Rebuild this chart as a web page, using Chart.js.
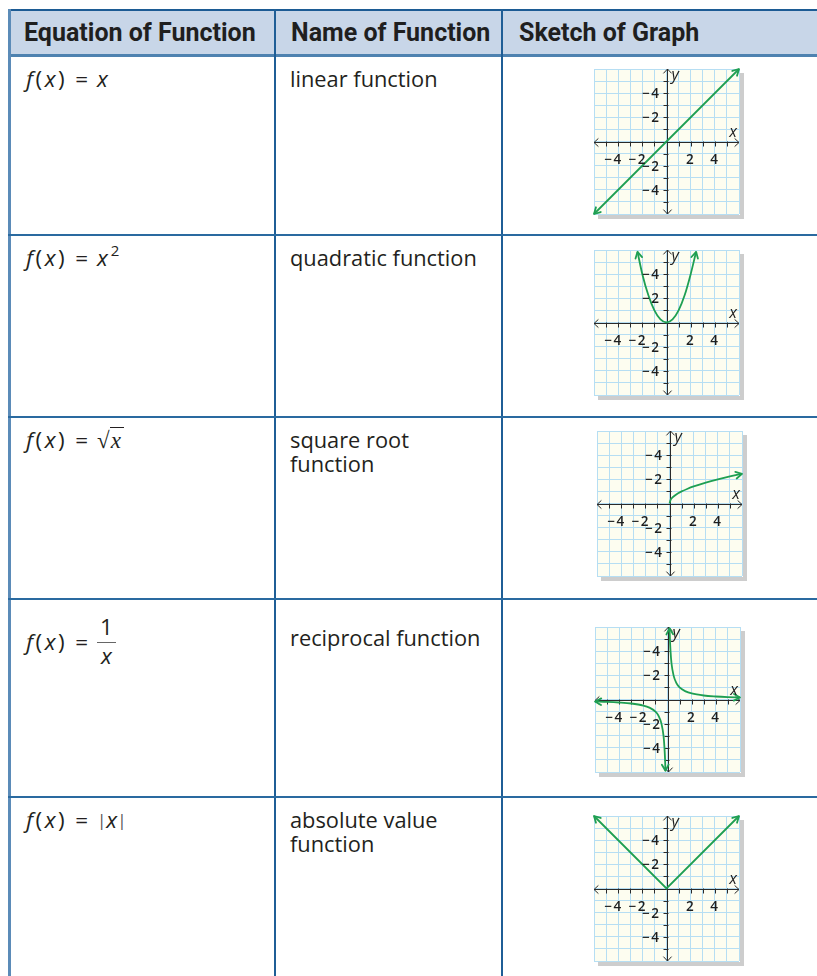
<!DOCTYPE html>
<html>
<head>
<meta charset="utf-8">
<script src="https://cdn.jsdelivr.net/npm/chart.js@4.4.1/dist/chart.umd.min.js"></script>
<style>
html,body{margin:0;padding:0;background:#fff;}
body{width:817px;height:976px;overflow:hidden;position:relative;font-family:"Open Sans",sans-serif;color:#231f20;}
.ln{position:absolute;}
.hdr{position:absolute;top:12px;height:42px;line-height:42px;font-family:Roboto,"Open Sans",sans-serif;font-weight:700;font-size:25px;color:#1f1f1f;white-space:nowrap;}
.eq{position:absolute;left:26px;font-size:22.5px;line-height:26px;white-space:nowrap;}
.eq i{font-style:italic;}
.eq .fx{letter-spacing:2.5px;}
.eq .op{margin:0 9px 0 8px;}
.nm{position:absolute;left:290px;font-size:21.8px;line-height:24px;white-space:nowrap;}
.frac{display:inline-block;vertical-align:middle;text-align:center;line-height:24px;position:relative;top:0px;}
.frac .num{display:block;border-bottom:1.3px solid #666;padding:0 3px 3px 3px;}
.frac .den{display:block;padding-top:1px;}
.rad{font-family:"Liberation Serif",serif;font-size:23px;}
.radx{font-family:"Liberation Serif",serif;font-style:italic;font-size:23px;border-top:1.3px solid #231f20;padding:0 3px 0 1px;}
.bar{font-size:17px;color:#555;position:relative;top:-2px;}
.sup{font-size:15px;position:relative;top:-10px;margin-left:3px;}
canvas{position:absolute;}
</style>
</head>
<body>
<!-- header -->
<div class="ln" style="left:8px;top:10px;width:809px;height:46px;background:#c8d6e8;"></div>
<div class="ln" style="left:8px;top:9px;width:809px;height:2px;background:#1c5b94;"></div>
<div class="ln" style="left:8px;top:54px;width:809px;height:3px;background:#4e82b0;"></div>
<!-- vertical borders -->
<div class="ln" style="left:8px;top:9px;width:3px;height:967px;background:#5b8bb8;"></div>
<div class="ln" style="left:274px;top:9px;width:2px;height:967px;background:#1f5e96;"></div>
<div class="ln" style="left:501px;top:9px;width:2px;height:967px;background:#1f5e96;"></div>
<div id="rowlines"></div>
<div id="texts"></div>
<div id="charts"></div>

<script>
// ---------- data ----------
const headers = ["Equation of Function", "Name of Function", "Sketch of Graph"];
const functionNames = [
  ["linear function"],
  ["quadratic function"],
  ["square root", "function"],
  ["reciprocal function"],
  ["absolute value", "function"]
];
const equationsHtml = [
  '<span class="fx"><i>f</i>(<i>x</i>)</span><span class="op">=</span><i>x</i>',
  '<span class="fx"><i>f</i>(<i>x</i>)</span><span class="op">=</span><i>x</i><span class="sup">2</span>',
  '<span class="fx"><i>f</i>(<i>x</i>)</span><span class="op">=</span><span class="rad">√</span><span class="radx">x</span>',
  '<span style="vertical-align:middle"><span class="fx"><i>f</i>(<i>x</i>)</span><span class="op">=</span></span><span class="frac"><span class="num">1</span><span class="den"><i>x</i></span></span>',
  '<span class="fx"><i>f</i>(<i>x</i>)</span><span class="op">=</span><span class="bar">|</span><i>x</i><span class="bar">|</span>'
];

const axisTickValues = [-5, -4, -3, -2, -1, 1, 2, 3, 4, 5];
const xLabelValues = [-4, -2, 2, 4];
const xLabelTexts = ["−4", "−2", "2", "4"];
const yLabelValues = [4, 2, -2, -4];
const yLabelTexts = ["−4", "−2", "−2", "−4"];

const linearX = [-6, 6];
const linearY = [-6, 6];

const quadX = [-2.4, -2, -1.5, -1, -0.5, 0, 0.5, 1, 1.5, 2, 2.45];
const quadY = [5.85, 4, 2.25, 1, 0.25, 0, 0.25, 1, 2.25, 4, 5.85];

const sqrtX = [0, 0.1, 0.25, 0.5, 1, 1.5, 2, 3, 4, 5, 6];
const sqrtY = [0, 0.32, 0.5, 0.71, 1, 1.22, 1.41, 1.73, 2, 2.24, 2.45];

const recipRightX = [0.17, 0.2, 0.25, 0.33, 0.5, 0.75, 1, 1.5, 2, 3, 4, 5, 6];
const recipRightY = [5.9, 5, 4, 3, 2, 1.33, 1, 0.67, 0.5, 0.33, 0.25, 0.2, 0.17];
const recipLeftX = [-6, -5, -4, -3, -2, -1.5, -1, -0.75, -0.5, -0.33, -0.25, -0.2, -0.17];
const recipLeftY = [-0.17, -0.2, -0.25, -0.33, -0.5, -0.67, -1, -1.33, -2, -3, -4, -5, -5.9];

const absX = [-6, 0, 6];
const absY = [6, 0, 6];

// ---------- layout ----------
const rowLineTops = [234, 416, 598, 796];
const eqTops = [66, 245, 427, 615, 807];
const nameTops = [67, 246, 428, 626, 808];
const boxPos = [[594, 69], [594, 250], [597, 431], [595, 627], [594, 816]];
const BOX = 145, PAD_L = 6, PAD_T = 6, PAD_R = 10, PAD_B = 10;

const GREEN = '#1e9f52';

// header & table lines
const hx = [24, 291, 519];
headers.forEach((h, i) => {
  const d = document.createElement('div');
  d.className = 'hdr'; d.style.left = hx[i] + 'px'; d.textContent = h;
  document.body.appendChild(d);
});
rowLineTops.forEach(y => {
  const d = document.createElement('div');
  d.className = 'ln';
  d.style.cssText = `left:8px;top:${y}px;width:809px;height:2px;background:#2a6aa0;`;
  document.getElementById('rowlines').appendChild(d);
});
equationsHtml.forEach((html, i) => {
  const d = document.createElement('div');
  d.className = 'eq'; d.style.top = eqTops[i] + 'px'; d.innerHTML = html;
  document.getElementById('texts').appendChild(d);
});
functionNames.forEach((lines, i) => {
  lines.forEach((t, j) => {
    const d = document.createElement('div');
    d.className = 'nm'; d.style.top = (nameTops[i] + j * 24) + 'px'; d.textContent = t;
    document.getElementById('texts').appendChild(d);
  });
});

function pts(xs, ys) { return xs.map((x, i) => ({ x: x, y: ys[i] })); }

const graphSeries = [
  [{ data: pts(linearX, linearY), arrows: [true, true], smooth: false }],
  [{ data: pts(quadX, quadY), arrows: [true, true], smooth: true }],
  [{ data: pts(sqrtX, sqrtY), arrows: [false, true], smooth: true }],
  [{ data: pts(recipRightX, recipRightY), arrows: [true, true], smooth: true },
   { data: pts(recipLeftX, recipLeftY), arrows: [true, true], smooth: true }],
  [{ data: pts(absX, absY), arrows: [true, true], smooth: false }]
];

function chevron(ctx, tx, ty, ang, len, spread) {
  ctx.beginPath();
  ctx.moveTo(tx - len * Math.cos(ang - spread), ty - len * Math.sin(ang - spread));
  ctx.lineTo(tx, ty);
  ctx.lineTo(tx - len * Math.cos(ang + spread), ty - len * Math.sin(ang + spread));
  ctx.stroke();
}

const sketchPlugin = {
  id: 'sketch',
  beforeDraw(chart) {
    const { ctx, chartArea: a } = chart;
    ctx.save();
    ctx.fillStyle = '#cdcdcd';
    ctx.fillRect(a.right + 1, a.top + 4, 4, a.bottom - a.top + 1);
    ctx.fillRect(a.left + 4, a.bottom + 1, a.right - a.left + 1, 4);
    ctx.fillStyle = '#fdfdf0';
    ctx.fillRect(a.left, a.top, a.right - a.left, a.bottom - a.top);
    ctx.restore();
  },
  beforeDatasetsDraw(chart) {
    const { ctx, chartArea: a, scales: { x: xs, y: ys } } = chart;
    const ox = Math.round(xs.getPixelForValue(0)) + 0.5;
    const oy = Math.round(ys.getPixelForValue(0)) + 0.5;
    ctx.save();
    ctx.strokeStyle = '#2a2a2a';
    ctx.lineWidth = 1;
    ctx.beginPath();
    ctx.moveTo(a.left, oy); ctx.lineTo(a.right, oy);
    ctx.moveTo(ox, a.top); ctx.lineTo(ox, a.bottom);
    axisTickValues.forEach(v => {
      const px = Math.round(xs.getPixelForValue(v)) + 0.5;
      ctx.moveTo(px, oy - 1); ctx.lineTo(px, oy + 4);
      const py = Math.round(ys.getPixelForValue(v)) + 0.5;
      ctx.moveTo(ox - 4, py); ctx.lineTo(ox + 1, py);
    });
    ctx.stroke();
    chevron(ctx, a.right, oy, 0, 6, 0.75);
    chevron(ctx, a.left, oy, Math.PI, 6, 0.75);
    chevron(ctx, ox, a.top, -Math.PI / 2, 6, 0.75);
    chevron(ctx, ox, a.bottom, Math.PI / 2, 6, 0.75);
    ctx.restore();
  },
  afterDatasetsDraw(chart) {
    const { ctx, chartArea: a, scales: { x: xs, y: ys } } = chart;
    const ox = xs.getPixelForValue(0), oy = ys.getPixelForValue(0);
    ctx.save();
    // curve arrowheads
    ctx.strokeStyle = GREEN; ctx.lineWidth = 1.8; ctx.lineCap = 'round'; ctx.lineJoin = 'round';
    chart.data.datasets.forEach((ds, di) => {
      const el = chart.getDatasetMeta(di).data;
      const n = el.length;
      if (ds.arrows[0]) {
        const ang = Math.atan2(el[0].y - el[1].y, el[0].x - el[1].x);
        chevron(ctx, el[0].x, el[0].y, ang, 7, 0.5);
      }
      if (ds.arrows[1]) {
        const ang = Math.atan2(el[n - 1].y - el[n - 2].y, el[n - 1].x - el[n - 2].x);
        chevron(ctx, el[n - 1].x, el[n - 1].y, ang, 7, 0.5);
      }
    });
    // tick labels
    ctx.fillStyle = '#1e1e1e';
    ctx.font = '600 13.5px "Open Sans", sans-serif';
    try { ctx.letterSpacing = '1.5px'; } catch (e) {}
    ctx.textBaseline = 'alphabetic';
    ctx.textAlign = 'right';
    xLabelValues.forEach((v, i) => {
      const t = xLabelTexts[i];
      const dw = ctx.measureText(t.slice(-1)).width;
      ctx.fillText(t, xs.getPixelForValue(v) + dw / 2, oy + 22);
    });
    ctx.textBaseline = 'middle';
    yLabelValues.forEach((v, i) => {
      ctx.fillText(yLabelTexts[i], ox - 6, ys.getPixelForValue(v) + 1);
    });
    try { ctx.letterSpacing = '0px'; } catch (e) {}
    // axis names
    ctx.font = 'italic 16px "Open Sans", sans-serif';
    ctx.textBaseline = 'alphabetic';
    ctx.textAlign = 'right';
    ctx.fillText('x', a.right - 2, oy - 5);
    ctx.textAlign = 'left';
    ctx.fillText('y', ox + 5, a.top + 11);
    ctx.restore();
  }
};

graphSeries.forEach((series, gi) => {
  const c = document.createElement('canvas');
  c.width = BOX + PAD_L + PAD_R; c.height = BOX + PAD_T + PAD_B;
  c.style.left = (boxPos[gi][0] - PAD_L) + 'px';
  c.style.top = (boxPos[gi][1] - PAD_T) + 'px';
  c.style.width = c.width + 'px'; c.style.height = c.height + 'px';
  document.getElementById('charts').appendChild(c);
  new Chart(c, {
    type: 'line',
    data: {
      datasets: series.map(s => ({
        data: s.data,
        arrows: s.arrows,
        borderColor: GREEN,
        borderWidth: 1.8,
        pointRadius: 0,
        fill: false,
        tension: 0,
        cubicInterpolationMode: s.smooth ? 'monotone' : 'default',
        clip: 8
      }))
    },
    options: {
      responsive: false,
      maintainAspectRatio: false,
      devicePixelRatio: 1,
      animation: false,
      events: [],
      layout: { padding: { left: PAD_L, top: PAD_T, right: PAD_R, bottom: PAD_B } },
      plugins: { legend: { display: false }, tooltip: { enabled: false } },
      scales: {
        x: {
          type: 'linear', min: -6, max: 6,
          ticks: { display: false, stepSize: 1 },
          grid: { color: '#b6def3', lineWidth: 1, drawTicks: false },
          border: { display: false }
        },
        y: {
          type: 'linear', min: -6, max: 6,
          ticks: { display: false, stepSize: 1 },
          grid: { color: '#b6def3', lineWidth: 1, drawTicks: false },
          border: { display: false }
        }
      }
    },
    plugins: [sketchPlugin]
  });
});
</script>
</body>
</html>
